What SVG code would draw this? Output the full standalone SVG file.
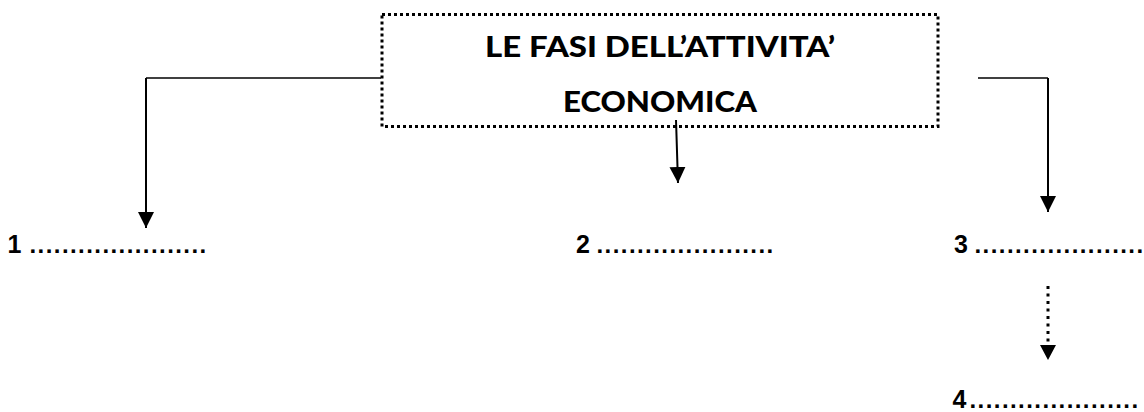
<svg xmlns="http://www.w3.org/2000/svg" width="1144" height="412" viewBox="0 0 1144 412">
  <style>
    .title { font-family: Lato, "Liberation Sans", Arial, sans-serif; font-weight: 900; font-size: 29px; fill: #000; }
    .num { font-family: "Liberation Sans", Arial, sans-serif; font-weight: bold; font-size: 25px; fill: #000; }
    .dots { font-family: "Liberation Sans", Arial, sans-serif; font-weight: bold; font-size: 24px; letter-spacing: 1.43px; fill: #000; }
    .conn { stroke: #000; stroke-width: 2; fill: none; }
    .thin { stroke-width: 1.5; }
    .dotted { stroke-dasharray: 3 4.5; stroke-width: 3; }
  </style>
  <defs>
    <marker id="arrow" viewBox="0 0 16 16" refX="16" refY="8" markerWidth="16" markerHeight="16" markerUnits="userSpaceOnUse" orient="auto">
      <path d="M0,0 L16,8 L0,16 Z" fill="#000"/>
    </marker>
  </defs>
  <rect width="1144" height="412" fill="#fff"/>

  <g id="connectors">
    <polyline class="conn thin" points="381,78 146,78"/>
    <line class="conn" x1="146" y1="78" x2="146" y2="228" marker-end="url(#arrow)"/>
    <line class="conn" x1="676" y1="120" x2="678" y2="183" marker-end="url(#arrow)"/>
    <polyline class="conn thin" points="978,78 1048,78"/>
    <line class="conn" x1="1048" y1="78" x2="1048" y2="212" marker-end="url(#arrow)"/>
    <line class="conn dotted" x1="1048" y1="286" x2="1048" y2="345"/>
    <path d="M1040,345 L1056,345 L1048,360 Z" fill="#000"/>
  </g>

  <g id="title">
    <rect x="382" y="14.5" width="556" height="112" fill="none" stroke="#000" stroke-width="3" stroke-dasharray="3 3"/>
    <text class="title" x="660" y="57" text-anchor="middle" textLength="350" lengthAdjust="spacingAndGlyphs">LE FASI DELL’ATTIVITA’</text>
    <text class="title" x="660" y="112" text-anchor="middle" textLength="194" lengthAdjust="spacingAndGlyphs">ECONOMICA</text>
  </g>

  <g id="n1">
    <text class="num" x="7.5" y="253">1</text>
    <text class="dots" x="29.5" y="253">......................</text>
  </g>
  <g id="n2">
    <text class="num" x="576" y="253">2</text>
    <text class="dots" x="596.5" y="253">......................</text>
  </g>
  <g id="n3">
    <text class="num" x="954" y="253">3</text>
    <text class="dots" x="974.5" y="253">.....................</text>
  </g>
  <g id="n4">
    <text class="num" x="952.5" y="408">4</text>
    <text class="dots" x="969.5" y="408">.....................</text>
  </g>
</svg>
